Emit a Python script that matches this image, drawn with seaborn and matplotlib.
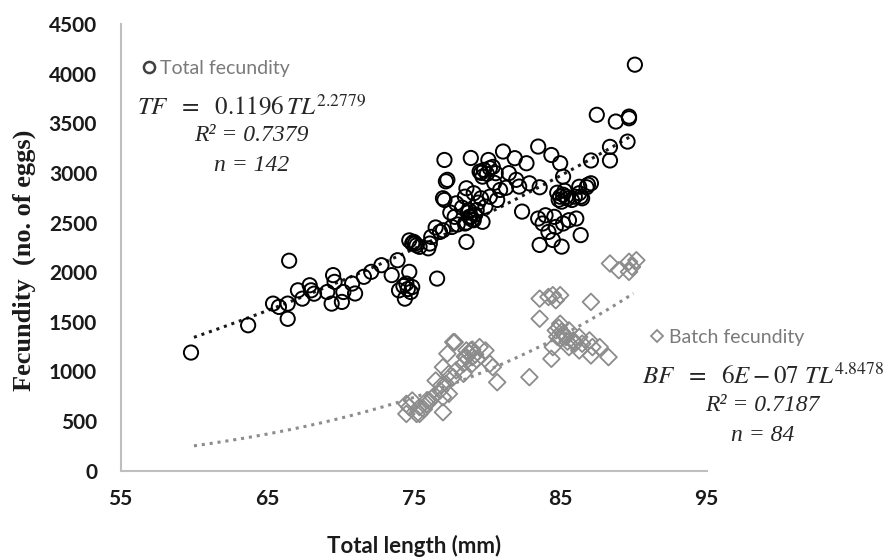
import numpy as np
import matplotlib
matplotlib.use("Agg")
import matplotlib.pyplot as plt
import seaborn as sns
from matplotlib.lines import Line2D

# total fecundity (open circles) - total length (mm) / no. of eggs
tl_total = [59.8, 63.7, 66.5, 66.4, 65.4, 65.8, 66.4, 67.1, 67.9, 68.0,
            67.4, 68.2, 69.5, 69.6, 69.1, 69.4, 70.1, 70.2, 70.8, 71.0,
            71.6, 72.1, 72.8, 73.5, 73.9, 74.7, 74.5, 74.9, 74.0, 74.4,
            74.6, 74.8, 74.3, 74.9, 75.1, 75.0, 75.4, 76.0, 74.7, 75.2,
            76.6, 76.2, 76.1, 76.8, 77.0, 77.6, 77.8, 78.5, 78.8, 79.1,
            79.7, 79.3, 79.9, 77.9, 78.5, 79.1, 79.6, 80.2, 80.9, 80.7,
            77.1, 78.6, 77.3, 77.2, 77.1, 78.9, 81.1, 80.1, 81.9, 82.7,
            79.5, 80.2, 80.6, 79.7, 81.5, 82.0, 82.2, 82.9, 78.6, 77.0,
            78.7, 78.9, 79.0, 78.6, 79.2, 78.8, 79.8, 80.0, 80.4, 79.6,
            83.5, 84.4, 85.0, 83.6, 82.4, 83.6, 84.5, 85.1, 86.4, 87.1,
            88.4, 88.4, 89.6, 87.5, 88.8, 89.7, 89.7, 90.1, 84.8, 85.0,
            85.2, 84.9, 85.3, 85.5, 86.3, 86.0, 86.4, 85.4, 85.1, 87.1,
            86.9, 86.8, 86.3, 85.8, 86.5, 83.5, 84.0, 84.6, 83.8, 84.2,
            84.7, 85.2, 85.6, 86.1, 85.2, 78.3, 77.5, 76.5, 78.0, 79.4,
            80.5, 81.3]
fec_total = [1190, 1465, 2115, 1530, 1683, 1650, 1683, 1817, 1868, 1817,
             1733, 1783, 1970, 1902, 1800, 1683, 1700, 1800, 1885, 1785,
             1953, 2003, 2070, 1970, 2120, 2003, 1885, 1850, 1817, 1733,
             1830, 1800, 1860, 2290, 2288, 2305, 2255, 2240, 2320, 2270,
             1935, 2355, 2288, 2405, 2422, 2455, 2557, 2490, 2557, 2523,
             2507, 2626, 2660, 2693, 2760, 2795, 2744, 2760, 2828, 2727,
             2727, 2305, 2930, 2915, 3130, 3150, 3215, 3130, 3148, 3097,
             3013, 3047, 2997, 2962, 2997, 2930, 2862, 2895, 2845, 2744,
             2600, 2560, 2530, 2500, 2580, 2620, 3030, 2990, 3060, 3000,
             3265, 3180, 3097, 2855, 2610, 2274, 2324, 2257, 2373, 3125,
             3262, 3125, 3315, 3585, 3517, 3567, 3550, 4090, 2800, 2760,
             2780, 2730, 2820, 2740, 2860, 2760, 2760, 2760, 2710, 2895,
             2880, 2855, 2795, 2727, 2744, 2540, 2573, 2557, 2490, 2405,
             2455, 2490, 2523, 2540, 2962, 2650, 2600, 2450, 2480, 2700,
             2900, 2850]

# batch fecundity (open diamonds)
tl_batch = [74.5, 75.2, 74.7, 74.9, 75.4, 75.9, 76.3, 76.8, 77.2, 77.7,
            78.4, 79.0, 78.9, 78.6, 77.8, 77.3, 77.0, 77.4, 77.0, 74.5,
            75.4, 75.9, 77.0, 76.5, 77.4, 77.9, 78.4, 79.5, 79.9, 80.2,
            80.4, 80.7, 78.6, 79.0, 77.7, 78.8, 79.2, 79.0, 78.5, 79.3,
            76.1, 75.7, 76.9,
            83.6, 84.2, 84.5, 85.0, 84.7, 83.6, 87.1, 85.0, 84.7, 85.2,
            85.6, 85.4, 85.9, 86.3, 86.5, 87.0, 87.2, 87.7, 88.3, 87.1,
            86.3, 85.6, 84.5, 84.4, 82.9, 84.9, 85.1, 85.3, 85.0, 85.5,
            86.0, 84.8,
            88.4, 89.0, 89.7, 90.2, 89.7, 89.9]
fec_batch = [572, 572, 640, 707, 640, 673, 740, 808, 875, 942,
             976, 1077, 1211, 1144, 1295, 1178, 1043, 774, 589, 673,
             572, 707, 740, 908, 976, 1010, 1077, 1245, 1211, 1077,
             1043, 891, 1211, 1144, 1295, 1180, 1170, 1220, 1150, 1120,
             700, 620, 860,
             1733, 1750, 1768, 1768, 1717, 1531, 1700, 1480, 1413, 1380,
             1413, 1346, 1312, 1346, 1279, 1312, 1245, 1245, 1144, 1161,
             1211, 1245, 1245, 1127, 942, 1440, 1400, 1360, 1330, 1300,
             1280, 1350,
             2087, 2020, 2104, 2120, 2003, 2053]

# power trend lines given on the chart
tf_a, tf_b = 0.1196, 2.2779
bf_a, bf_b = 6e-07, 4.8478
fit_from, fit_to = 60, 90

x_ticks = [55, 65, 75, 85, 95]
y_ticks = list(range(0, 4501, 500))

sns.set_style("white")
plt.rcParams['font.family'] = ['Lato', 'DejaVu Sans']
plt.rcParams['mathtext.fontset'] = 'stix'

fig = plt.figure(figsize=(8.9, 5.6), dpi=100)
ax = fig.add_axes([0.1356, 0.1595, 0.6584, 0.7977])

sns.scatterplot(x=tl_total, y=fec_total, marker='o', s=105, facecolor='none',
                edgecolor='black', linewidth=1.4, ax=ax, zorder=3)
sns.scatterplot(x=tl_batch, y=fec_batch, marker='D', s=72, facecolor='none',
                edgecolor='#8c8c8c', linewidth=1.3, ax=ax, zorder=3)

x_fit = np.linspace(fit_from, fit_to, 200)
ax.plot(x_fit, tf_a * x_fit ** tf_b, color='#1a1a1a', linewidth=2.2,
        dashes=(1, 1.6), zorder=2)
ax.plot(x_fit, bf_a * x_fit ** bf_b, color='#8c8c8c', linewidth=2.2,
        dashes=(1, 1.6), zorder=2)

ax.set_xlim(55, 95)
ax.set_ylim(0, 4500)
ax.set_xticks(x_ticks)
ax.set_yticks(y_ticks)
for s in ['top', 'right']:
    ax.spines[s].set_visible(False)
for s in ['left', 'bottom']:
    ax.spines[s].set_color('#bfbfbf')
    ax.spines[s].set_linewidth(1.5)
ax.tick_params(direction='out', length=7, width=1.5, color='#bfbfbf',
               labelsize=15, labelcolor='#1a1a1a')
ax.tick_params(axis='x', pad=6)
ax.tick_params(axis='y', pad=10)
for lab in ax.get_xticklabels() + ax.get_yticklabels():
    lab.set_fontweight('bold')

ax.set_xlabel('Total length (mm)', fontsize=16, fontweight='bold', color='#1a1a1a')
ax.xaxis.set_label_coords(0.5, -0.144)
ax.set_ylabel('Fecundity  (no. of eggs)', fontsize=19, fontweight='bold',
              family='Liberation Serif', color='#1a1a1a')
ax.yaxis.set_label_coords(-0.145, 0.472)

# legend-like labels
h_tot = Line2D([], [], marker='o', linestyle='none', markersize=8,
               markerfacecolor='none', markeredgecolor='#404040', markeredgewidth=1.8)
h_bat = Line2D([], [], marker='D', linestyle='none', markersize=6.5,
               markerfacecolor='none', markeredgecolor='#8c8c8c', markeredgewidth=1.3)
leg1 = ax.legend([h_tot], ['Total fecundity'], loc='center left',
                 bbox_to_anchor=(0.038, 0.90), frameon=False, handlelength=0.6,
                 handletextpad=0.3, borderpad=0, borderaxespad=0, fontsize=14,
                 labelcolor='#7a7a7a')
ax.add_artist(leg1)
ax.legend([h_bat], ['Batch fecundity'], loc='center left',
          bbox_to_anchor=(0.906, 0.299), frameon=False, handlelength=0.6,
          handletextpad=0.3, borderpad=0, borderaxespad=0, fontsize=14,
          labelcolor='#7a7a7a').set_clip_on(False)

eq_color = '#262626'
ax.text(0.2227, 0.818, r'$TF\ \ =\ \ 0.1196\,TL^{2.2779}$', transform=ax.transAxes,
        ha='center', va='center', fontsize=18, color=eq_color)
ax.text(0.2227, 0.751, 'R² = 0.7379', transform=ax.transAxes, ha='center', va='center',
        fontsize=17, family='Liberation Serif', style='italic', color=eq_color)
ax.text(0.2227, 0.684, 'n = 142', transform=ax.transAxes, ha='center', va='center',
        fontsize=17, family='Liberation Serif', style='italic', color=eq_color)
ax.text(1.0956, 0.213, r'$BF\ \ =\ \ 6E-07\ TL^{4.8478}$', transform=ax.transAxes,
        ha='center', va='center', fontsize=18, color=eq_color, clip_on=False)
ax.text(1.0956, 0.146, 'R² = 0.7187', transform=ax.transAxes, ha='center', va='center',
        fontsize=17, family='Liberation Serif', style='italic', color=eq_color)
ax.text(1.0956, 0.0785, 'n = 84', transform=ax.transAxes, ha='center', va='center',
        fontsize=17, family='Liberation Serif', style='italic', color=eq_color)

fig.savefig('out.png', dpi=100)
